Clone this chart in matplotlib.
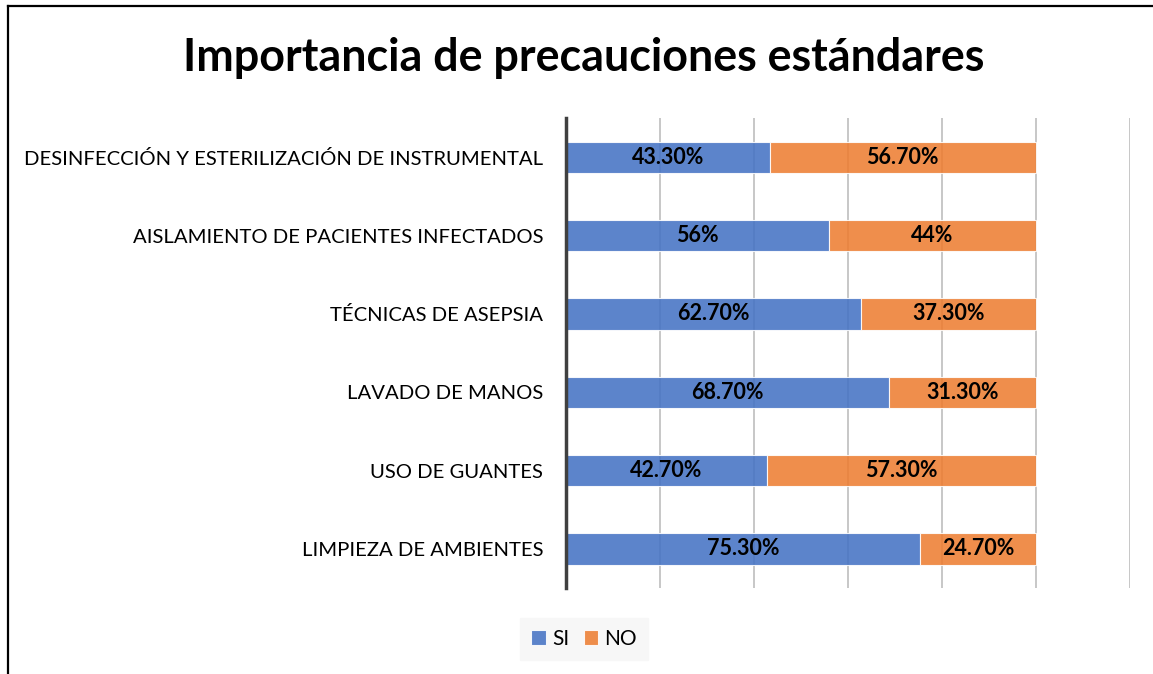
import matplotlib.pyplot as plt
from matplotlib.lines import Line2D
import numpy as np

plt.rcParams['font.family'] = ['Lato', 'DejaVu Sans']

# Data (bottom to top)
categories = ["LIMPIEZA DE AMBIENTES", "USO DE GUANTES", "LAVADO DE MANOS",
              "TÉCNICAS DE ASEPSIA", "AISLAMIENTO DE PACIENTES INFECTADOS",
              "DESINFECCIÓN Y ESTERILIZACIÓN DE INSTRUMENTAL"]
si_values = [75.3, 42.7, 68.7, 62.7, 56.0, 43.3]
no_values = [24.7, 57.3, 31.3, 37.3, 44.0, 56.7]

blue = '#4472C4'
orange = '#ED7D31'


def fmt(v):
    if float(v).is_integer():
        return f"{int(v)}%"
    return f"{v:.2f}%"


fig = plt.figure(figsize=(11.53, 6.74), dpi=100)
ax = fig.add_axes([566 / 1153, 1 - 588 / 674, (1130 - 566) / 1153, (588 - 118) / 674])

y = np.arange(len(categories))
si = np.array(si_values) / 100
no = np.array(no_values) / 100

b1 = ax.barh(y, si, height=0.4, color=blue, alpha=0.87, edgecolor='white', linewidth=0.8, label='SI', zorder=3)
b2 = ax.barh(y, no, left=si, height=0.4, color=orange, alpha=0.87, edgecolor='white', linewidth=0.8, label='NO', zorder=3)

for i in range(len(categories)):
    ax.text(si[i] / 2, y[i], fmt(si_values[i]), ha='center', va='center',
            fontsize=15.5, fontweight='bold', color='black', zorder=4)
    ax.text(si[i] + no[i] / 2, y[i], fmt(no_values[i]), ha='center', va='center',
            fontsize=15.5, fontweight='bold', color='black', zorder=4)

ax.set_xlim(0, 1.2)
ax.set_ylim(-0.5, len(categories) - 0.5)
ax.set_xticks(np.arange(0, 1.21, 0.2))
ax.set_xticklabels([])
ax.tick_params(axis='x', length=0)
ax.tick_params(axis='y', length=0, pad=16.5, labelsize=14.6)
ax.set_yticks(y)
ax.set_yticklabels(categories)
ax.grid(axis='x', color='#bdbdbd', linewidth=1.2, zorder=0)
ax.set_axisbelow(True)
for s in ['top', 'right', 'bottom']:
    ax.spines[s].set_visible(False)
ax.spines['left'].set_color('#404040')
ax.spines['left'].set_linewidth(2.5)
ax.spines['left'].set_zorder(5)

fig.text(584 / 1153, 1 - 58 / 674, "Importancia de precauciones estándares",
         ha='center', va='center', fontsize=32.3, fontweight='bold')

leg = fig.legend(handles=[b1, b2], labels=['SI', 'NO'], loc='center',
                 bbox_to_anchor=(584 / 1153, 1 - 639 / 674), ncol=2,
                 fontsize=15, frameon=True, facecolor='#f7f7f7', edgecolor='#f7f7f7',
                 handlelength=0.7, handleheight=0.7, handletextpad=0.3, columnspacing=0.7,
                 fancybox=False, borderpad=0.55)
leg.get_frame().set_alpha(1)

# outer border (top and left only)
fig.add_artist(Line2D([8 / 1153, 8 / 1153], [0, 1 - 6 / 674], transform=fig.transFigure,
                      color='black', linewidth=1.6))
fig.add_artist(Line2D([8 / 1153, 1], [1 - 6 / 674, 1 - 6 / 674], transform=fig.transFigure,
                      color='black', linewidth=1.6))

fig.savefig('out.png', dpi=100)
